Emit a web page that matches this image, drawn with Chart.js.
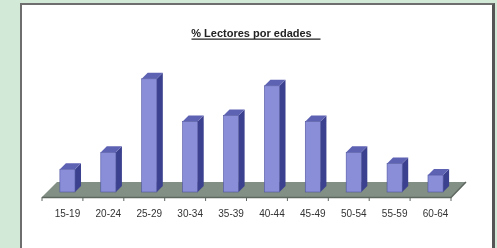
<!DOCTYPE html>
<html>
<head>
<meta charset="utf-8">
<script src="https://cdn.jsdelivr.net/npm/chart.js@4"></script>
<style>
  html, body { margin: 0; padding: 0; background: #d3e9d8; overflow: hidden; }
  #panel { position: absolute; left: 20px; top: 3px; width: 470px; height: 260px;
           background: #fff; border-left: 2px solid #6e6e6e; border-top: 2px solid #6e6e6e;
           border-right: 3px solid #555; }
  #wrap { position: absolute; left: 0; top: 0; width: 497px; height: 248px; }
</style>
</head>
<body>
<div id="panel"></div>
<div id="wrap"><canvas id="chart" width="497" height="248"></canvas></div>
<script>
// % lectores por tramo de edad
const ageGroups = ['15-19', '20-24', '25-29', '30-34', '35-39', '40-44', '45-49', '50-54', '55-59', '60-64'];
const readers = [3.9, 6.8, 19.4, 12.1, 13.1, 18.2, 12.1, 6.8, 4.9, 2.9];

const DEPTH = 6;

// suelo gris y caras laterales / superiores de las columnas
const bars3d = {
    id: 'bars3d',
    beforeDatasetsDraw(chart) {
        const { ctx, chartArea, scales } = chart;
        const y0 = scales.y.getPixelForValue(0);
        const l = chartArea.left, r = chartArea.right;
        ctx.save();
        ctx.fillStyle = '#818f84';
        ctx.beginPath();
        ctx.moveTo(l - 5, y0 + 5);
        ctx.lineTo(l + 10, y0 - 10);
        ctx.lineTo(r + 10, y0 - 10);
        ctx.lineTo(r - 5, y0 + 5);
        ctx.closePath();
        ctx.fill();
        ctx.strokeStyle = '#5d675f';
        ctx.lineWidth = 1.5;
        ctx.beginPath();
        ctx.moveTo(l - 5, y0 + 5.5);
        ctx.lineTo(r - 5, y0 + 5.5);
        ctx.lineTo(r + 10, y0 - 10);
        ctx.stroke();
        // marcas del eje entre categorias
        ctx.lineWidth = 1;
        for (let i = 0; i <= ageGroups.length; i++) {
            const x = (i === 0 ? l : i === ageGroups.length ? r :
                (scales.x.getPixelForValue(i - 1) + scales.x.getPixelForValue(i)) / 2) - 5;
            ctx.beginPath();
            ctx.moveTo(x, y0 + 5);
            ctx.lineTo(x, y0 + 9);
            ctx.stroke();
        }
        ctx.restore();
    },
    afterDatasetsDraw(chart) {
        const { ctx } = chart;
        const meta = chart.getDatasetMeta(0);
        ctx.save();
        meta.data.forEach(bar => {
            const w = bar.width;
            const x1 = bar.x - w / 2, x2 = bar.x + w / 2;
            const top = bar.y, base = bar.base;
            ctx.fillStyle = '#3c418f';
            ctx.beginPath();
            ctx.moveTo(x2, base);
            ctx.lineTo(x2 + DEPTH, base - DEPTH);
            ctx.lineTo(x2 + DEPTH, top - DEPTH);
            ctx.lineTo(x2, top);
            ctx.closePath();
            ctx.fill();
            ctx.fillStyle = '#5e62b3';
            ctx.beginPath();
            ctx.moveTo(x1, top);
            ctx.lineTo(x1 + DEPTH, top - DEPTH);
            ctx.lineTo(x2 + DEPTH, top - DEPTH);
            ctx.lineTo(x2, top);
            ctx.closePath();
            ctx.fill();
            ctx.strokeStyle = '#50559f';
            ctx.lineWidth = 0.6;
            ctx.strokeRect(x1, top, w, base - top);
        });
        ctx.restore();
    },
    afterDraw(chart) {
        const t = chart.titleBlock;
        const { ctx } = chart;
        ctx.save();
        ctx.strokeStyle = '#222';
        ctx.lineWidth = 1.2;
        const y = t.top + t.height - 10 - 1;
        const cx = (t.left + t.right) / 2 + 3;
        ctx.beginPath();
        ctx.moveTo(cx - 63, y);
        ctx.lineTo(cx + 66, y);
        ctx.stroke();
        ctx.restore();
    }
};

new Chart(document.getElementById('chart'), {
    type: 'bar',
    data: {
        labels: ageGroups,
        datasets: [{
            label: '% Lectores',
            data: readers,
            backgroundColor: '#8a8ed9',
            barPercentage: 0.37,
            categoryPercentage: 1
        }]
    },
    options: {
        responsive: false,
        animation: false,
        layout: { padding: { left: 47, right: 41, top: 0, bottom: 20 } },
        plugins: {
            legend: { display: false },
            tooltip: { enabled: false },
            title: {
                display: true,
                text: '% Lectores por edades',
                color: '#222',
                font: { family: 'Liberation Sans', size: 11, weight: 'bold' },
                padding: { top: 27, bottom: 10 }
            }
        },
        scales: {
            x: {
                grid: { display: false },
                border: { display: false },
                ticks: {
                    color: '#333',
                    font: { family: 'Liberation Sans', size: 10 },
                    padding: 8,
                    maxRotation: 0
                }
            },
            y: {
                display: false,
                min: 0,
                max: 24.3
            }
        }
    },
    plugins: [bars3d]
});
</script>
</body>
</html>
